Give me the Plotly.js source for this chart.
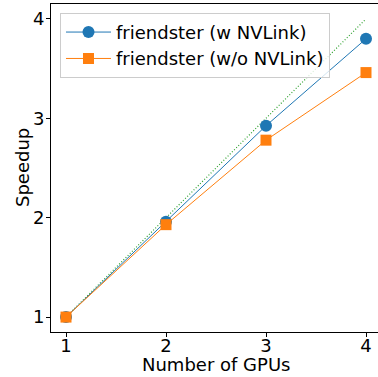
<!DOCTYPE html>
<html>
<head>
<meta charset="utf-8">
<script src="https://cdn.plot.ly/plotly-3.0.1.min.js"></script>
<style>html,body{margin:0;padding:0;overflow:hidden;background:#fff}</style>
</head>
<body>
<div id="chart" style="width:378px;height:377px"></div>
<script>
const gpus = [1, 2, 3, 4];
const withNVLink = [1.0, 1.96, 2.925, 3.80];
const withoutNVLink = [1.0, 1.93, 2.78, 3.46];
const ideal = [1, 2, 3, 4];
const xTicks = [1, 2, 3, 4];
const yTicks = [1, 2, 3, 4];
const xTitle = 'Number of GPUs';
const yTitle = 'Speedup';

const font = 'DejaVu Sans, sans-serif';

const traces = [
  {
    x: gpus, y: ideal, mode: 'lines', showlegend: false, hoverinfo: 'skip',
    line: {color: '#2ca02c', width: 1.2, dash: '1px,2px'}
  },
  {
    x: gpus, y: withNVLink, mode: 'lines+markers', name: 'friendster (w NVLink)',
    line: {color: '#1f77b4', width: 1},
    marker: {symbol: 'circle', size: 12, color: '#1f77b4'}
  },
  {
    x: gpus, y: withoutNVLink, mode: 'lines+markers', name: 'friendster (w/o NVLink)',
    line: {color: '#ff7f0e', width: 1},
    marker: {symbol: 'square', size: 11, color: '#ff7f0e'}
  }
];

const layout = {
  width: 378, height: 377,
  margin: {l: 51, r: 0, t: 4, b: 45},
  paper_bgcolor: '#fff', plot_bgcolor: '#fff',
  font: {family: font, size: 18, color: '#000'},
  xaxis: {
    range: [0.85, 4.12], tickvals: xTicks, ticktext: xTicks.map(String),
    showgrid: false, zeroline: false, showline: true, mirror: true,
    linecolor: '#000', linewidth: 1, ticks: 'outside', ticklen: 4, tickcolor: '#000',
    ticklabelstandoff: -7,
    tickfont: {size: 18, family: font}
  },
  yaxis: {
    range: [0.85, 4.15], tickvals: yTicks, ticktext: yTicks.map(String),
    showgrid: false, zeroline: false, showline: true, mirror: false,
    linecolor: '#000', linewidth: 1, ticks: 'outside', ticklen: 4, tickcolor: '#000',
    ticklabelstandoff: -2,
    tickfont: {size: 18, family: font}
  },
  annotations: [
    {text: xTitle, xref: 'paper', yref: 'paper', x: 0.505, y: (332 - 364) / 328,
     xanchor: 'center', yanchor: 'middle', showarrow: false,
     font: {size: 18, family: font, color: '#000'}},
    {text: yTitle, xref: 'paper', yref: 'paper', x: (22 - 51) / 327, y: 0.5,
     xanchor: 'center', yanchor: 'middle', textangle: -90, showarrow: false,
     font: {size: 18, family: font, color: '#000'}}
  ],
  legend: {
    x: 0.0275, y: 0.973, xanchor: 'left', yanchor: 'top',
    bgcolor: 'rgba(255,255,255,0.8)', bordercolor: '#cccccc', borderwidth: 1,
    itemwidth: 45,
    font: {size: 18, family: font, color: '#000'}
  }
};

Plotly.newPlot('chart', traces, layout, {displayModeBar: false, staticPlot: true});
</script>
</body>
</html>
